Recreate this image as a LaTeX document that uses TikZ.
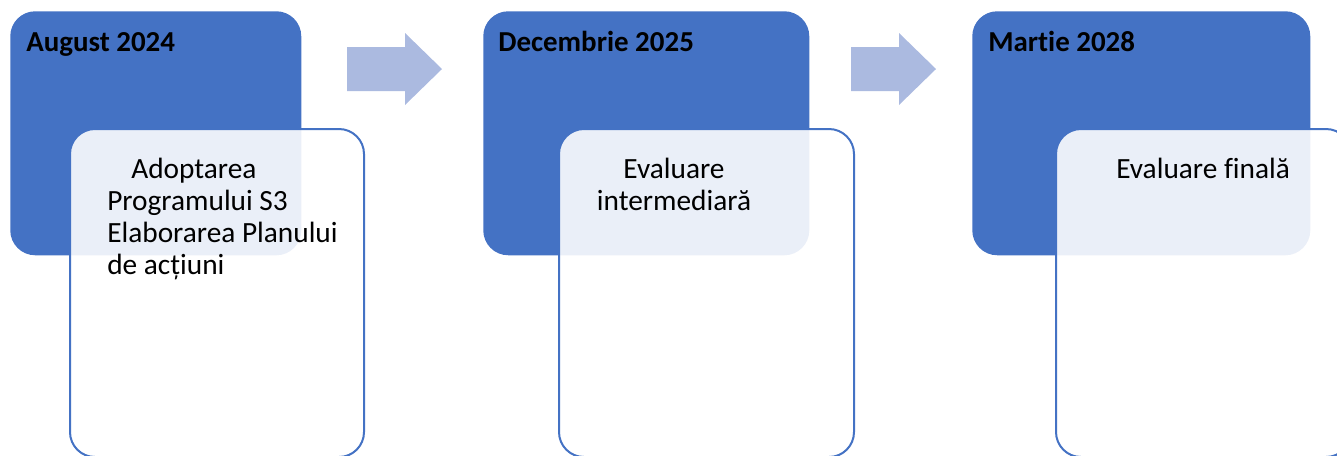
\documentclass[tikz,border=0pt]{standalone}
\usepackage{fontspec}
\setmainfont{Carlito}[Ligatures=NoCommon]
\definecolor{darkblue}{HTML}{4472C4}
\definecolor{arrowblue}{HTML}{ABBAE0}
\begin{document}
\begin{tikzpicture}[x=0.75pt,y=-0.75pt,
  datebox/.style={fill=darkblue, draw=none, rounded corners=18.75pt, anchor=north west, inner sep=0pt},
  taskbox/.style={fill=white, fill opacity=0.89, draw=darkblue, line width=1.5pt, rounded corners=18.75pt, anchor=north west, inner sep=0pt},
  datetext/.style={anchor=base west, inner sep=0pt, font=\fontsize{21.7}{24}\selectfont\bfseries, text=black},
  tasktext/.style={anchor=base west, inner sep=0pt, font=\fontsize{22}{24}\selectfont, text=black},
  blockarrow/.style={fill=arrowblue, draw=none}]
\useasboundingbox (0,0) rectangle (1337,455);
\clip (0,0) rectangle (1337,455);
% date boxes
\node[datebox, minimum width={291*0.75pt}, minimum height={244*0.75pt}] (d1) at (10,11) {};
\node[datebox, minimum width={326*0.75pt}, minimum height={244*0.75pt}] (d2) at (483,11) {};
\node[datebox, minimum width={338*0.75pt}, minimum height={244*0.75pt}] (d3) at (972,11) {};
% task boxes
\node[taskbox, minimum width={294*0.75pt}, minimum height={328*0.75pt}] (t1) at (69,128) {};
\node[taskbox, minimum width={295*0.75pt}, minimum height={328*0.75pt}] (t2) at (558,128) {};
\node[taskbox, minimum width={295*0.75pt}, minimum height={328*0.75pt}] (t3) at (1055,128) {};
% titles
\node[datetext] (l1) at (26,51) {August 2024};
\node[datetext] (l2) at (498,51) {Decembrie 2025};
\node[datetext] (l3) at (988,51) {Martie 2028};
% task texts
\node[tasktext] (x1) at (107,178) {\begin{tabular}[t]{@{}l@{}}\hspace*{18pt}Adoptarea\\Programului S3\\Elaborarea Planului\\de acțiuni\end{tabular}};
\node[tasktext, anchor=base] (x2) at (674,178) {\begin{tabular}[t]{@{}c@{}}Evaluare\\intermediară\end{tabular}};
\node[tasktext] (x3) at (1116,178) {Evaluare finală};
% arrows
\fill[blockarrow] (347,47) -- (405,47) -- (405,33) -- (442,69) -- (405,105) -- (405,91) -- (347,91) -- cycle;
\fill[blockarrow] (851,47) -- (899,47) -- (899,33) -- (936,69) -- (899,105) -- (899,91) -- (851,91) -- cycle;
\end{tikzpicture}
\end{document}
